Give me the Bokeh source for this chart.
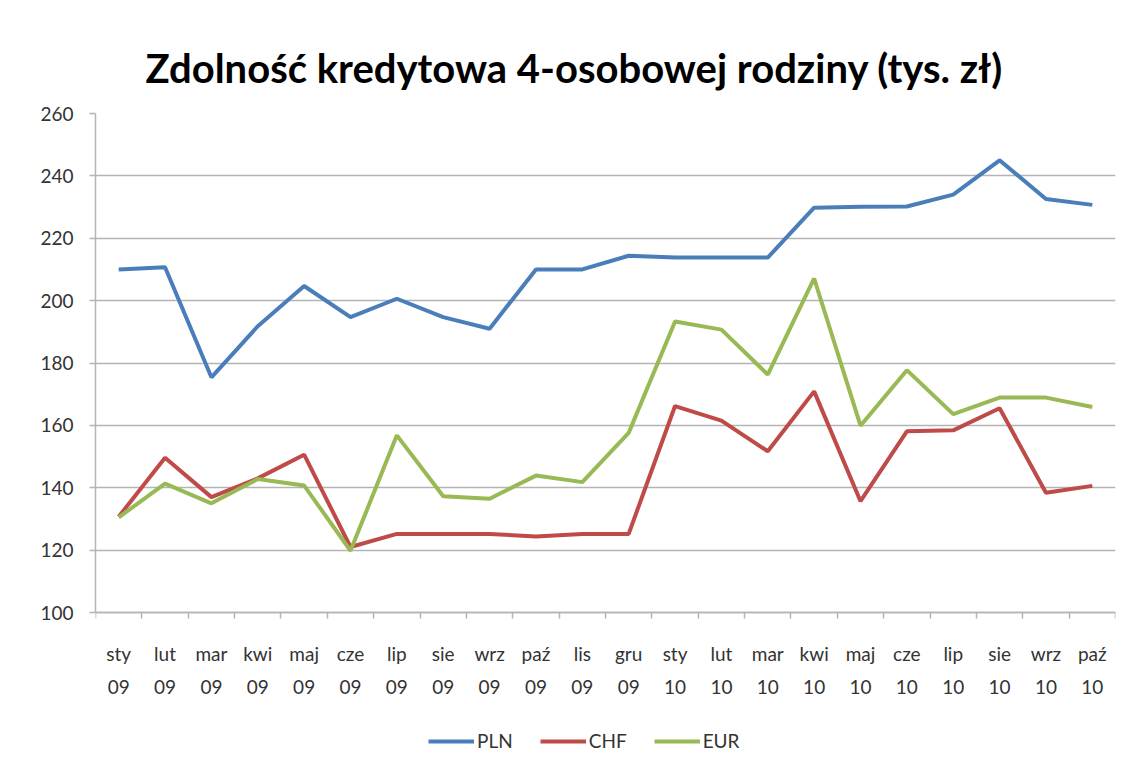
from bokeh.plotting import figure
from bokeh.models import LinearAxis, FixedTicker, Range1d, Legend, LegendItem
from bokeh.embed import file_html
from bokeh.resources import INLINE

months = ["sty", "lut", "mar", "kwi", "maj", "cze", "lip", "sie", "wrz", "paź", "lis", "gru",
          "sty", "lut", "mar", "kwi", "maj", "cze", "lip", "sie", "wrz", "paź"]
years = ["09"] * 12 + ["10"] * 10

pln = [210, 210.7, 175.4, 191.8, 204.7, 194.7, 200.6, 194.7, 191, 210, 210, 214.4,
       213.8, 213.8, 213.8, 229.8, 230.1, 230.2, 234, 245, 232.6, 230.7]
chf = [130.7, 149.6, 137, 143, 150.6, 121, 125.2, 125.2, 125.2, 124.4, 125.2, 125.2,
       166.2, 161.5, 151.7, 170.9, 135.7, 158.1, 158.4, 165.5, 138.4, 140.6]
eur = [130.5, 141.3, 135, 142.8, 140.7, 119.8, 156.8, 137.3, 136.5, 143.9, 141.8, 157.6,
       193.3, 190.7, 176.3, 207.1, 159.9, 177.7, 163.6, 168.9, 168.9, 165.9]

yticks = [100, 120, 140, 160, 180, 200, 220, 240, 260]

n = len(months)
xs = [i + 0.5 for i in range(n)]

FONT = "Lato"
GRID = "#b4b4b4"

YMIN, YMAX = 100, 260
DATA_H = 499                       # pixel height of the 100..260 band
FRAME_H = 650                      # frame extends below 100 to hold labels + legend
y_start = YMAX - (YMAX - YMIN) * FRAME_H / DATA_H

p = figure(frame_width=1020, frame_height=FRAME_H, output_backend="svg", toolbar_location=None,
           x_range=Range1d(0, n), y_range=Range1d(y_start, YMAX),
           min_border_left=95, min_border_right=9, min_border_top=113, min_border_bottom=0,
           x_axis_location=None, y_axis_location=None)
p.outline_line_color = None

p.title.text = "Zdolność kredytowa 4-osobowej rodziny (tys. zł)"
p.title.text_font = FONT
p.title.text_font_size = "40px"
p.title.text_font_style = "bold"
p.title.text_color = "#000000"
p.title.align = "left"
p.title.offset = 50
p.title.standoff = 44

# y axis (bounded to the data band)
ya = LinearAxis(ticker=FixedTicker(ticks=yticks), bounds=(YMIN, YMAX))
ya.axis_line_color = GRID
ya.axis_line_width = 1.5
ya.major_tick_line_color = GRID
ya.major_tick_line_width = 1.5
ya.major_tick_in = 0
ya.major_tick_out = 6
ya.minor_tick_line_color = None
ya.major_label_text_font = FONT
ya.major_label_text_font_size = "19px"
ya.major_label_text_color = "#333333"
ya.major_label_standoff = 16
p.add_layout(ya, "left")

# x axis at y=100: tick marks at category boundaries
bticks = list(range(n + 1))
xa = LinearAxis(ticker=FixedTicker(ticks=bticks), fixed_location=YMIN)
xa.axis_line_color = GRID
xa.axis_line_width = 1.5
xa.major_tick_line_color = GRID
xa.major_tick_line_width = 1.5
xa.major_tick_in = 0
xa.major_tick_out = 6
xa.minor_tick_line_color = None
xa.major_label_overrides = {t: "" for t in bticks}
xa.major_label_standoff = 0
p.add_layout(xa, "below")

def label_axis(labels, standoff):
    ax = LinearAxis(ticker=FixedTicker(ticks=xs), fixed_location=YMIN)
    ax.axis_line_color = None
    ax.major_tick_line_color = None
    ax.minor_tick_line_color = None
    ax.major_tick_in = 0
    ax.major_tick_out = 0
    ax.major_label_overrides = {x: lab for x, lab in zip(xs, labels)}
    ax.major_label_text_font = FONT
    ax.major_label_text_font_size = "19px"
    ax.major_label_text_color = "#333333"
    ax.major_label_standoff = standoff
    return ax

p.add_layout(label_axis(months, 29), "below")
p.add_layout(label_axis(years, 67), "below")

p.xgrid.visible = False
p.ygrid.ticker = FixedTicker(ticks=yticks)
p.ygrid.grid_line_color = GRID
p.ygrid.grid_line_width = 1.5

r1 = p.line(xs, pln, line_color="#4a7ebb", line_width=4)
r2 = p.line(xs, chf, line_color="#be4b48", line_width=4)
r3 = p.line(xs, eur, line_color="#98b954", line_width=4)

legend = Legend(items=[LegendItem(label="PLN", renderers=[r1]),
                       LegendItem(label="CHF", renderers=[r2]),
                       LegendItem(label="EUR", renderers=[r3])],
                orientation="horizontal", location=(333, 11))
legend.label_text_font = FONT
legend.label_text_font_size = "19px"
legend.label_text_color = "#333333"
legend.border_line_color = None
legend.background_fill_alpha = 0
legend.glyph_width = 46
legend.label_standoff = 3
legend.spacing = 27
legend.margin = 0
legend.padding = 0
p.add_layout(legend, "center")

open("out.html", "w").write(file_html(p, INLINE))
